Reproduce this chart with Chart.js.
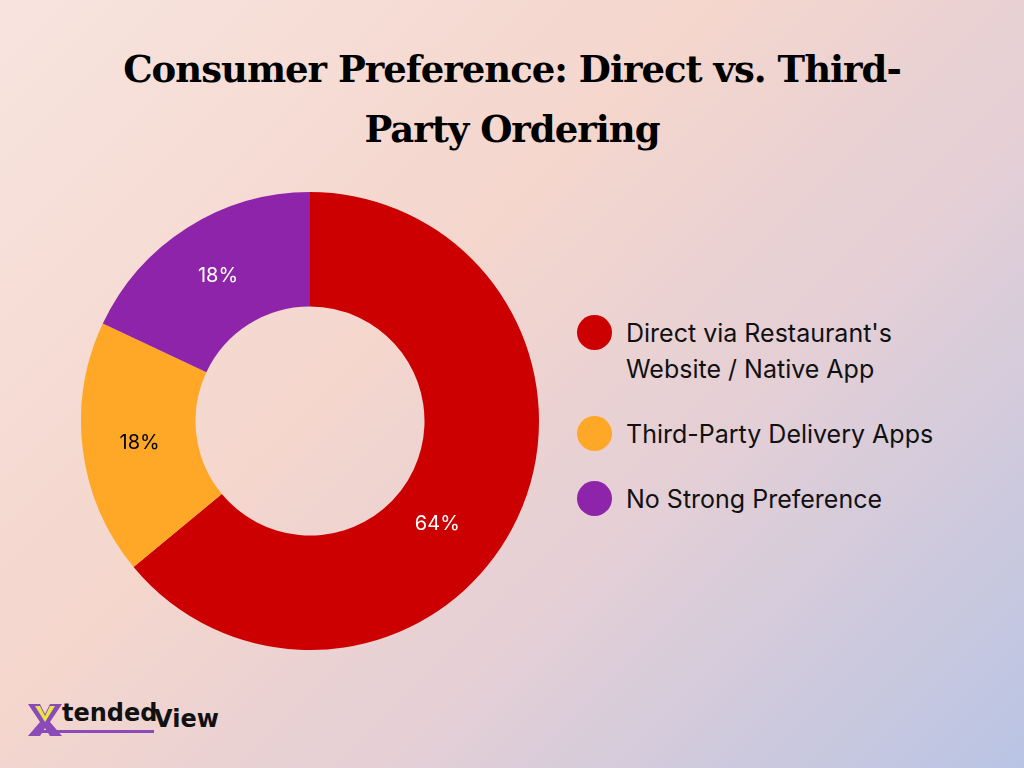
<!DOCTYPE html>
<html>
<head>
<meta charset="utf-8">
<script src="https://cdn.jsdelivr.net/npm/chart.js@4"></script>
<style>
  body { margin: 0; width: 1024px; height: 768px; overflow: hidden;
    background: linear-gradient(135deg, #f8e4df 0%, #f4d6cd 40%, #e4cfd6 65%, #b9c4e4 100%);
    font-family: Inter, "Noto Sans", sans-serif; position: relative; }
  h1 { position: absolute; top: 39px; left: 0; width: 1024px; margin: 0; text-align: center;
    font-family: "DejaVu Serif", serif; font-weight: 900; font-size: 37px; line-height: 60px;
    color: #000; letter-spacing: -1px; }
  #wrap { position: absolute; left: 81px; top: 192px; width: 458px; height: 458px; }
  .legend { position: absolute; left: 577px; top: 315px; font-size: 25px; color: #111; }
  .item { display: flex; align-items: flex-start; margin-bottom: 29px; line-height: 36px; }
  .dot { width: 35px; height: 35px; border-radius: 50%; margin-right: 14px; flex: none; }
  .logo { position: absolute; left: 28px; top: 704px; font-family: "DejaVu Sans", sans-serif;
    font-weight: bold; font-size: 24px; color: #111; }
</style>
</head>
<body>
<h1>Consumer Preference: Direct vs. Third-<br>Party Ordering</h1>
<div id="wrap"><canvas id="donut"></canvas></div>
<div class="legend" id="legend"></div>
<div class="logo">
  <svg width="34" height="34" viewBox="0 0 34 34" style="position:absolute;left:0;top:-2px">
    <polygon points="0,2 12,2 17,12 22,2 34,2 22,20 34,34 22,34 17,26 12,34 0,34 12,20" fill="#8a4bb8"/>
    <polygon points="7,4 12,4 17,14 22,4 27,4 17,20" fill="#e8e640"/>
  </svg>
  <span style="position:absolute;left:34px;top:-5px">tended</span>
  <span style="position:absolute;left:126px;top:1px">View</span>
  <div style="position:absolute;left:14px;top:26px;width:112px;height:3px;background:#8a4bb8"></div>
</div>
<script>
const categories = ["Direct via Restaurant's Website / Native App", 'Third-Party Delivery Apps', 'No Strong Preference'];
const legendLines = [["Direct via Restaurant's", 'Website / Native App'], ['Third-Party Delivery Apps'], ['No Strong Preference']];
const shares = [64, 18, 18];
const colors = ['#cc0000', '#ffa726', '#8e24aa'];
const labelColors = ['#ffffff', '#000000', '#ffffff'];
const labelAngleShift = [0.24, 0, 0]; // radians, nudges the big slice label like the reference

// Legend in HTML so the first label can wrap
document.getElementById('legend').innerHTML = legendLines.map((lines, i) =>
  `<div class="item"><span class="dot" style="background:${colors[i]}"></span><span>${lines.join('<br>')}</span></div>`
).join('');

// Percent labels on each slice
const sliceLabels = {
  id: 'sliceLabels',
  afterDatasetsDraw(chart) {
    const ctx = chart.ctx;
    chart.getDatasetMeta(0).data.forEach((arc, i) => {
      const a = (arc.startAngle + arc.endAngle) / 2 + labelAngleShift[i];
      const r = (arc.innerRadius + arc.outerRadius) / 2 - (i === 0 ? 8 : 0);
      ctx.save();
      ctx.font = '20px Inter, sans-serif';
      ctx.fillStyle = labelColors[i];
      ctx.textAlign = 'center';
      ctx.textBaseline = 'middle';
      ctx.fillText(shares[i] + '%', arc.x + Math.cos(a) * r, arc.y + Math.sin(a) * r);
      ctx.restore();
    });
  }
};

new Chart(document.getElementById('donut'), {
  type: 'doughnut',
  data: { labels: categories, datasets: [{ data: shares, backgroundColor: colors, borderWidth: 0 }] },
  options: {
    responsive: true, maintainAspectRatio: false, animation: false, cutout: '50%',
    plugins: { legend: { display: false }, tooltip: { enabled: false } }
  },
  plugins: [sliceLabels]
});
</script>
</body>
</html>
